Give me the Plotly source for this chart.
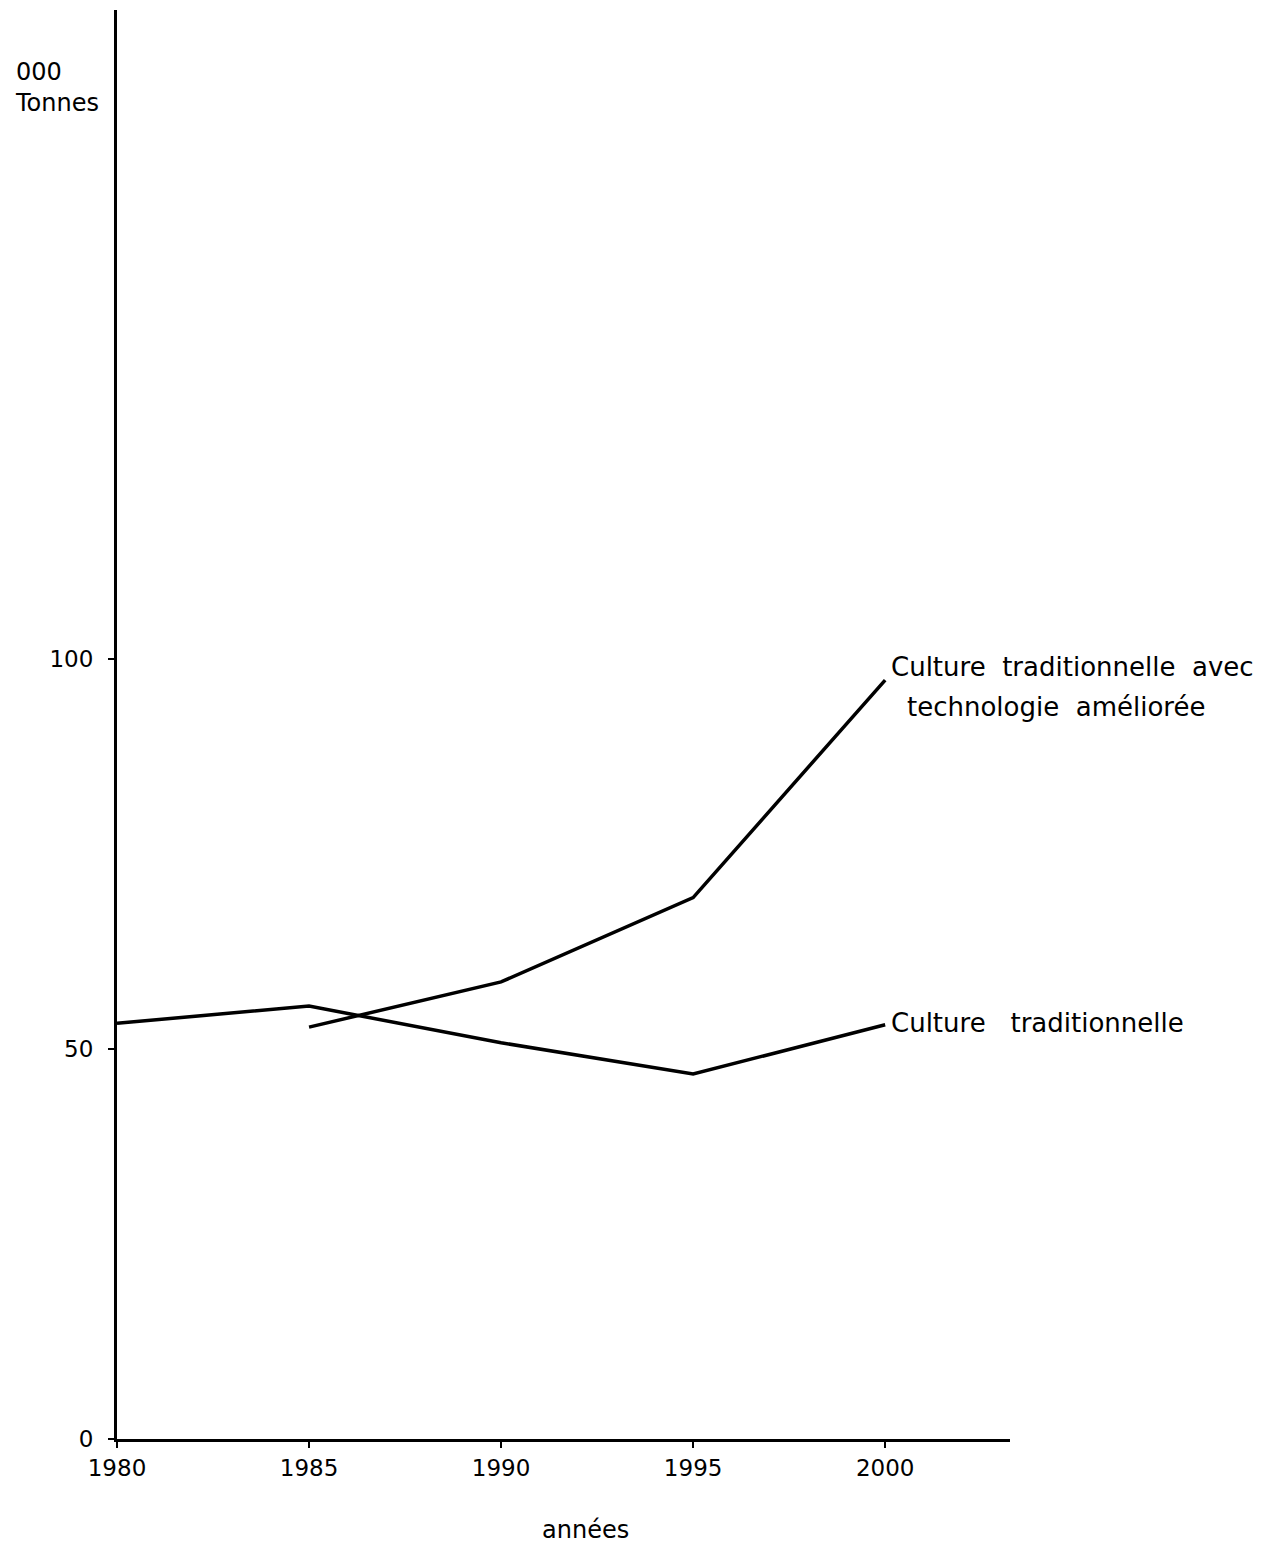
import plotly.graph_objects as go

years = [1980, 1985, 1990, 1995, 2000]
trad = [53.3, 55.5, 50.8, 46.8, 53.1]
years_improved = [1985, 1990, 1995, 2000]
improved = [52.8, 58.6, 69.4, 97.3]
x_ticks = [1980, 1985, 1990, 1995, 2000]
y_ticks = [0, 50, 100]

FONT = "DejaVu Sans"
fig = go.Figure()
fig.add_trace(go.Scatter(x=years, y=trad, mode="lines",
                         line=dict(color="black", width=3.5), showlegend=False))
fig.add_trace(go.Scatter(x=years_improved, y=improved, mode="lines",
                         line=dict(color="black", width=3.5), showlegend=False))

fig.update_layout(
    width=1275, height=1551,
    margin=dict(l=109, r=273, t=2, b=120),
    paper_bgcolor="white", plot_bgcolor="white",
    font=dict(family=FONT, color="black", size=23),
)
fig.update_xaxes(range=[1980, 2003.25], tickvals=x_ticks, ticktext=[str(v) for v in x_ticks],
                 showgrid=False, zeroline=False, showline=True, linecolor="black", linewidth=3,
                 ticks="outside", ticklen=6, tickwidth=2, tickcolor="black",
                 tickfont=dict(size=23, family=FONT))
fig.update_yaxes(range=[0, 183.2], tickvals=y_ticks, ticktext=[str(v) for v in y_ticks],
                 showgrid=False, zeroline=False, showline=True, linecolor="black", linewidth=3,
                 ticks="outside", ticklen=6, tickwidth=2, tickcolor="black",
                 ticklabelstandoff=10,
                 tickfont=dict(size=23, family=FONT))

# series labels
fig.add_annotation(x=2000, y=improved[-1], xref="x", yref="y", text="Culture  traditionnelle  avec",
                   showarrow=False, xanchor="left", yanchor="middle", xshift=4, yshift=13,
                   font=dict(size=26, family=FONT))
fig.add_annotation(x=2000, y=improved[-1], xref="x", yref="y", text="technologie  améliorée",
                   showarrow=False, xanchor="left", yanchor="middle", xshift=20, yshift=-27,
                   font=dict(size=26, family=FONT))
fig.add_annotation(x=2000, y=trad[-1], xref="x", yref="y", text="Culture   traditionnelle",
                   showarrow=False, xanchor="left", yanchor="middle", xshift=4, yshift=2,
                   font=dict(size=26, family=FONT))

# axis titles
fig.add_annotation(x=(57 - 117) / 893, y=(1439 - 88) / 1429, xref="paper", yref="paper",
                   text="000<br>Tonnes", showarrow=False, xanchor="center", yanchor="middle",
                   align="left", font=dict(size=24, family=FONT))
fig.add_annotation(x=(585 - 117) / 893, y=(1439 - 1530) / 1429, xref="paper", yref="paper",
                   text="années", showarrow=False, xanchor="center", yanchor="middle",
                   font=dict(size=24, family=FONT))

fig.write_html("out.html")
